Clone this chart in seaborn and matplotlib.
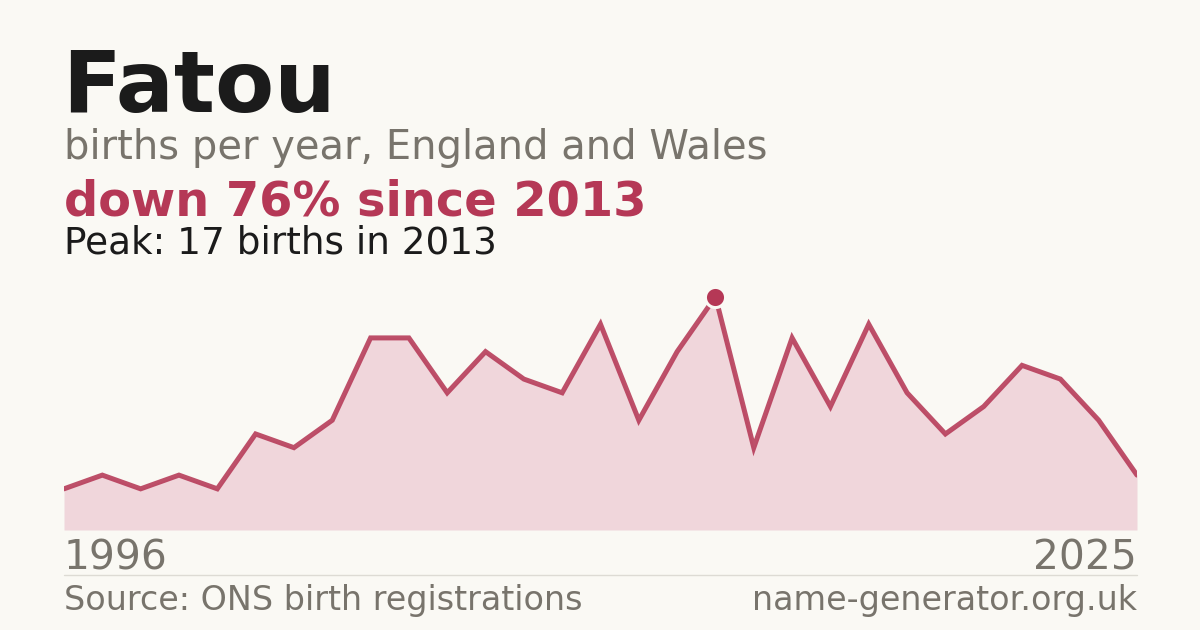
import numpy as np
import pandas as pd
import matplotlib
matplotlib.use("Agg")
import matplotlib.pyplot as plt
import seaborn as sns

# ---- data ----
name = "Fatou"
subtitle = "births per year, England and Wales"
headline = "down 76% since 2013"
peak_text = "Peak: 17 births in 2013"
source_text = "Source: ONS birth registrations"
site_text = "name-generator.org.uk"
start_label = "1996"
end_label = "2025"
births = [3, 4, 3, 4, 3, 7, 6, 8, 14, 14, 10, 13, 11, 10, 15, 8, 13, 17,
          6, 14, 9, 15, 10, 7, 9, 12, 11, 8, 4]
peak_index = 17

BG = "#FAF9F4"
RED = "#B53856"
FILL = "#F0D6DB"
GRAY = "#78746C"
DARK = "#1B1B1B"

sns.set_theme(style="white")
plt.rcParams["font.family"] = ["DejaVu Sans"]

W, H = 1200, 630
fig = plt.figure(figsize=(W / 100, H / 100), dpi=100, facecolor=BG)

def fx(px):
    return px / W

def fy(py):
    return 1 - py / H

ax = fig.add_axes([fx(64), fy(530), fx(1137) - fx(64), fy(270) - fy(530)])
ax.set_facecolor(BG)

df = pd.DataFrame({"idx": np.arange(len(births)), "births": births})
ax.fill_between(df["idx"], 0, df["births"], color=FILL, linewidth=0, zorder=1)
sns.lineplot(data=df, x="idx", y="births", ax=ax, color=RED, linewidth=3.6,
             alpha=0.88, zorder=2, solid_joinstyle="miter")
ax.scatter([df["idx"][peak_index]], [df["births"][peak_index]], s=210,
           color=RED, edgecolor=BG, linewidth=2.2, zorder=3)

ax.set_xlim(0, len(births) - 1)
ax.set_ylim(0, 18.95)
ax.axis("off")

# ---- texts ----
fig.text(fx(62), fy(112), name, fontsize=62, fontweight="bold", color=DARK, va="baseline")
fig.text(fx(64), fy(159), subtitle, fontsize=28.8, color=GRAY, va="baseline")
fig.text(fx(64), fy(215), headline, fontsize=34.5, fontweight="bold", color=RED, va="baseline")
fig.text(fx(64), fy(253), peak_text, fontsize=26.9, color=DARK, va="baseline")
fig.text(fx(64), fy(570), start_label, fontsize=29.3, color=GRAY, va="baseline")
fig.text(fx(1137), fy(570), end_label, fontsize=29.3, color=GRAY, va="baseline", ha="right")
fig.text(fx(64), fy(610), source_text, fontsize=24, color=GRAY, va="baseline")
fig.text(fx(1137), fy(610), site_text, fontsize=24, color=GRAY, va="baseline", ha="right")

fig.add_artist(plt.Line2D([fx(64), fx(1137)], [fy(574.5), fy(574.5)],
                          color="#DDDBD4", linewidth=1, transform=fig.transFigure))

fig.savefig("out.png", dpi=100, facecolor=BG)
